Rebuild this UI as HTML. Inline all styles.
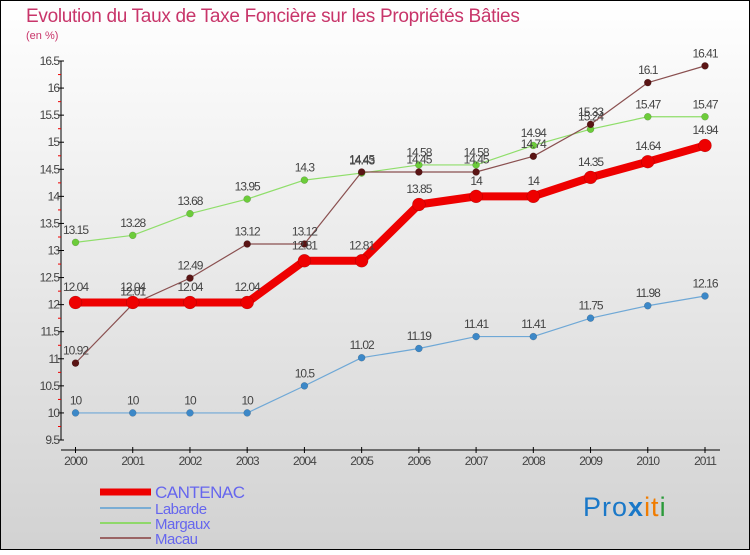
<!DOCTYPE html>
<html><head><meta charset="utf-8"><style>
html,body{margin:0;padding:0}
body{width:750px;height:550px;overflow:hidden;font-family:"Liberation Sans",sans-serif}
</style></head><body>
<svg id="chart" width="750" height="550" xmlns="http://www.w3.org/2000/svg">
<defs><linearGradient id="bg" x1="0" y1="0" x2="0" y2="1"><stop offset="0" stop-color="#ffffff"/><stop offset="1" stop-color="#d2d2d2"/></linearGradient></defs>
<rect x="0.5" y="0.5" width="749" height="549" fill="url(#bg)" stroke="#000"/>
<text x="26" y="22" font-size="19" fill="#c8356a" letter-spacing="-0.3">Evolution du Taux de Taxe Foncière sur les Propriétés Bâties</text>
<text x="26" y="39" font-size="11" fill="#c8356a">(en %)</text>
<g id="axes"></g><g id="series"></g><g id="legend"></g>
<text x="583" y="516" font-size="27" font-family="Liberation Sans, sans-serif" letter-spacing="1"><tspan fill="#1a78c8">Pro</tspan><tspan fill="#1a78c8" font-weight="bold">x</tspan><tspan fill="#f07c00">it</tspan><tspan fill="#2a9a3a">i</tspan></text>
</svg>
<script>
const years=["2000","2001","2002","2003","2004","2005","2006","2007","2008","2009","2010","2011"];
const yTicks=[9.5,10,10.5,11,11.5,12,12.5,13,13.5,14,14.5,15,15.5,16,16.5];
const cantenac=[12.04,12.04,12.04,12.04,12.81,12.81,13.85,14,14,14.35,14.64,14.94];
const labarde=[10,10,10,10,10.5,11.02,11.19,11.41,11.41,11.75,11.98,12.16];
const margaux=[13.15,13.28,13.68,13.95,14.3,14.43,14.58,14.58,14.94,15.24,15.47,15.47];
const macau=[10.92,12.01,12.49,13.12,13.12,14.45,14.45,14.45,14.74,15.33,16.1,16.41];
const NS="http://www.w3.org/2000/svg";
const x=i=>75.5+i*(705-75.5)/(years.length-1);
const y=v=>440-(v-9.5)*(379/7);
function mk(t,a,p){const e=document.createElementNS(NS,t);for(const k in a)e.setAttribute(k,a[k]);p.appendChild(e);return e;}
const ax=document.getElementById('axes');
let yl=mk('line',{x1:61,y1:61,x2:61,y2:440,stroke:'#000'},ax);


yTicks.forEach(v=>{
 mk('line',{x1:58,x2:64,y1:y(v),y2:y(v),stroke:'#000'},ax);
 if(v<16.5) mk('line',{x1:58,x2:61,y1:y(v)-13.5,y2:y(v)-13.5,stroke:'#e00'},ax);
 const t=mk('text',{x:59,y:y(v)+4,'text-anchor':'end','font-size':12,fill:'#444','letter-spacing':'-1'},ax);
 
 
 t.textContent=v;
});
let xl=mk('line',{x1:61,y1:450,x2:720,y2:450,stroke:'#000'},ax);


years.forEach((yr,i)=>{
 mk('line',{x1:x(i),x2:x(i),y1:447,y2:453,stroke:'#000'},ax);
 const t=mk('text',{x:x(i),y:465,'text-anchor':'middle','font-size':12,fill:'#444','letter-spacing':'-1'},ax);
 
 
 t.textContent=yr;
});
const sg=document.getElementById('series');
function series(name,data,color,dot,w,r){
 const g=mk('g',{},sg);
 
 
 mk('polyline',{points:data.map((v,i)=>x(i)+','+y(v)).join(' '),fill:'none',stroke:color,'stroke-width':w,'stroke-linejoin':'round'},g);
 data.forEach((v,i)=>{
  const c=mk('circle',{cx:x(i),cy:y(v),r:r,fill:dot,stroke:'rgba(0,0,0,0.25)','stroke-width':0.5},g);
  
  
  const t=mk('text',{x:x(i),y:y(v)-(r+5),'text-anchor':'middle','font-size':12,fill:'#444','letter-spacing':'-1'},g);
  
  
  t.textContent=v;
 });
}
series('labarde',labarde,'#6fa8d6','#3c88c8',1.2,3.5);
series('margaux',margaux,'#8fde6a','#6ccc3a',1.2,3.5);
series('macau',macau,'#8a5050','#5a1414',1.2,3.5);
series('cantenac',cantenac,'#ee0000','#ee0000',8,6.5);
const lg=document.getElementById('legend');
const items=[['CANTENAC','#ee0000',7,17],['Labarde','#7aadd4',2,15],['Margaux','#8fd86a',2,15],['Macau','#9a6464',2,15]];
const ly=[492,508,523,538];
items.forEach((it,k)=>{
 const g=mk('g',{},lg);
 
 
 mk('line',{x1:100,x2:151,y1:ly[k],y2:ly[k],stroke:it[1],'stroke-width':it[2]},g);
 const t=mk('text',{x:155,y:ly[k]+6,'font-size':it[3],fill:'#6666ee','letter-spacing':'-0.5'},g);
 t.textContent=it[0];
});
</script>
</body></html>
